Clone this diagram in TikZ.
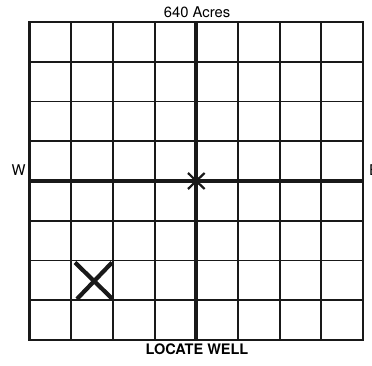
\documentclass[tikz,border=0pt]{standalone}
\usepackage{fontspec}
\setmainfont{TeX Gyre Heros}
\begin{document}
\begin{tikzpicture}[x=1pt,y=-1pt,
  thin grid/.style={line width=1.9pt,black!90},
  thick grid/.style={line width=3.8pt,black!90},
  mark x/.style={line width=4.2pt,black!90},
  lbl/.style={inner sep=0pt,font=\fontsize{14.8}{16}\selectfont}]
\useasboundingbox (0,0) rectangle (372,366);
% grid coordinates
\coordinate (tl) at (29.5,22);
\coordinate (br) at (363,340);
\foreach \i in {1,2,3,5,6,7} {
  \draw[thin grid] ({29.5+\i*41.69},22) -- ({29.5+\i*41.69},340);
  \draw[thin grid] (29.5,{22+\i*39.75}) -- (363,{22+\i*39.75});
}
\draw[line width=2.4pt,black!90] (tl) rectangle (br);
\coordinate (c) at (196.3,181);
\draw[thick grid] (196.3,22) -- (196.3,340);
\draw[thick grid] (29.5,181) -- (363,181);
% center star
\fill[black!90] (c) circle (4.5);
\draw[line width=2.2pt,black!90] (188,173) -- (204.6,189);
\draw[line width=2.2pt,black!90] (204.6,173) -- (188,189);
% well X
\draw[mark x] (75,262.5) -- (112,298.5);
\draw[mark x] (112,262.5) -- (77,299);
% labels
\node[lbl] (t) at (197,12) {640 Acres};
\node[lbl,font=\fontsize{14.5}{16}\selectfont\bfseries] (b) at (197,349) {LOCATE WELL};
\node[lbl] (w) at (18.5,170) {W};
\node[lbl,anchor=west] (e) at (369,170) {E};
\end{tikzpicture}
\end{document}
